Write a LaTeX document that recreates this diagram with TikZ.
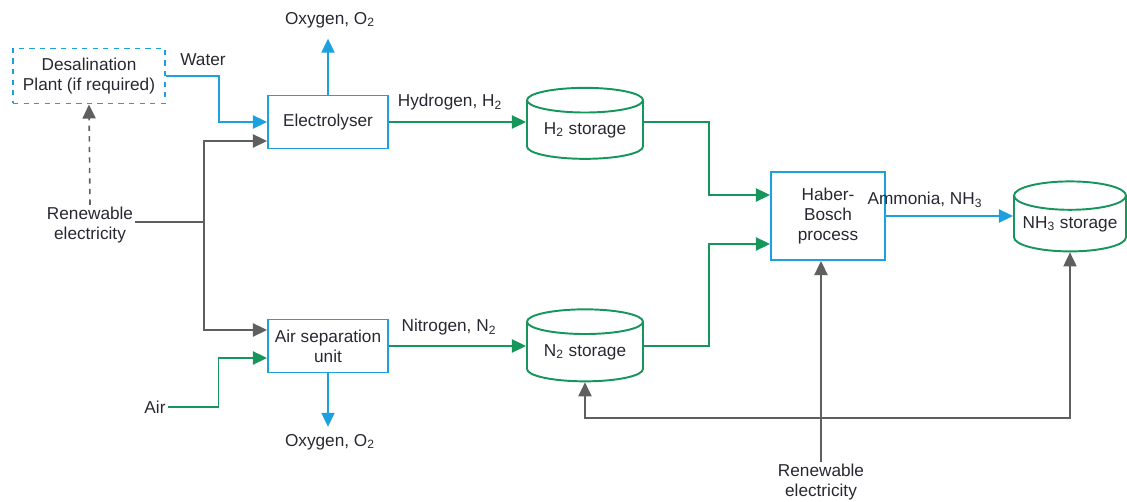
\documentclass[tikz,border=0pt]{standalone}
\usepackage{fontspec}
\setmainfont{Liberation Sans}
\usepackage{tikz}
\usetikzlibrary{positioning, arrows.meta, shapes.geometric, calc}
\definecolor{myBlue}{RGB}{28,160,222}
\definecolor{myGreen}{RGB}{22,150,90}
\definecolor{myGray}{RGB}{95,95,95}
\definecolor{myText}{RGB}{40,40,50}

\begin{document}
\begin{tikzpicture}[
  x=0.02cm, y=-0.02cm,
  font=\fontsize{9.8}{11.5}\selectfont, text=myText,
  unit/.style={draw=myBlue, line width=1.1pt, rectangle, align=center, inner sep=2pt},
  tank/.style={draw=myGreen, line width=1.1pt, cylinder, shape border rotate=90,
               aspect=0.3, align=center, inner sep=0pt},
  lbl/.style={align=center, inner sep=1pt},
  pipe/.style={line width=0.9pt, -{Triangle[length=8pt, width=7.5pt]}},
]
  \useasboundingbox (0,0) rectangle (1127,502);

  % process units
  \node[unit, dashed, minimum width=152*0.02cm, minimum height=55*0.02cm] (desal) at (89,76)
    {Desalination\\Plant (if required)};
  \node[unit, minimum width=120*0.02cm, minimum height=53*0.02cm] (elec) at (328,122) {Electrolyser};
  \node[unit, minimum width=120*0.02cm, minimum height=53*0.02cm] (asu) at (328,346) {Air separation\\unit};
  \node[unit, minimum width=114*0.02cm, minimum height=88*0.02cm] (hb) at (828,216) {Haber-\\Bosch\\process};

  % storage tanks
  \node[tank, minimum width=116*0.02cm, minimum height=71*0.02cm] (h2s) at (585,130) {H\textsubscript{2} storage};
  \node[tank, minimum width=116*0.02cm, minimum height=72*0.02cm] (n2s) at (585,352) {N\textsubscript{2} storage};
  \node[tank, minimum width=112*0.02cm, minimum height=70*0.02cm] (nh3s) at (1070,224) {NH\textsubscript{3} storage};

  % labels
  \node[lbl] (water) at (203,60) {Water};
  \node[lbl] (o2top) at (330,20) {Oxygen, O\textsubscript{2}};
  \node[lbl] (o2bot) at (330,442) {Oxygen, O\textsubscript{2}};
  \node[lbl] (renew1) at (90,225) {Renewable\\electricity};
  \node[lbl] (renew2) at (821,482) {Renewable\\electricity};
  \node[lbl] (air) at (155,407) {Air};
  \node[lbl] (hlab) at (450,102) {Hydrogen, H\textsubscript{2}};
  \node[lbl] (nlab) at (449,327) {Nitrogen, N\textsubscript{2}};
  \node[lbl] (alab) at (925,200) {Ammonia, NH\textsubscript{3}};

  \coordinate (bus) at (204,222);
  \coordinate (ejunc) at (821,418);

  % water and oxygen
  \draw[pipe, myBlue] (desal.east) -- ++(53,0) |- (elec.west);
  \draw[pipe, myBlue, shorten >=5pt] (elec.north) -- (elec.north |- o2top.south);
  \draw[pipe, myBlue, shorten >=3pt] (asu.south) -- (asu.south |- o2bot.north);

  % electricity
  \draw[line width=0.9pt, myGray] (renew1.east |- bus) -- (bus);
  \draw[pipe, myGray] (bus) |- ($(elec.west)+(0,19)$);
  \draw[pipe, myGray] (bus) |- ($(asu.west)+(0,-16)$);
  \draw[pipe, myGray, dashed] (renew1.north) -- (desal.south);
  \draw[line width=0.9pt, myGray] (renew2.north) -- (ejunc);
  \draw[pipe, myGray] (ejunc) -- (ejunc |- hb.south);
  \draw[pipe, myGray] (ejunc) -| (n2s.south);
  \draw[pipe, myGray] (ejunc) -| (nh3s.south);

  % gases
  \draw[pipe, myGreen] (air.east) -- ++(51,0) |- ($(asu.west)+(0,12)$);
  \draw[pipe, myGreen] (elec.east) -- (elec.east -| h2s.west);
  \draw[pipe, myGreen] (asu.east) -- (asu.east -| n2s.west);
  \draw[pipe, myGreen] (h2s.east |- elec.east) -- ++(65,0) |- ($(hb.west)+(0,-21)$);
  \draw[pipe, myGreen] (n2s.east |- asu.east) -- ++(65,0) |- ($(hb.west)+(0,28)$);
  \draw[pipe, myBlue] (hb.east) -- (hb.east -| nh3s.west);
\end{tikzpicture}
\end{document}
